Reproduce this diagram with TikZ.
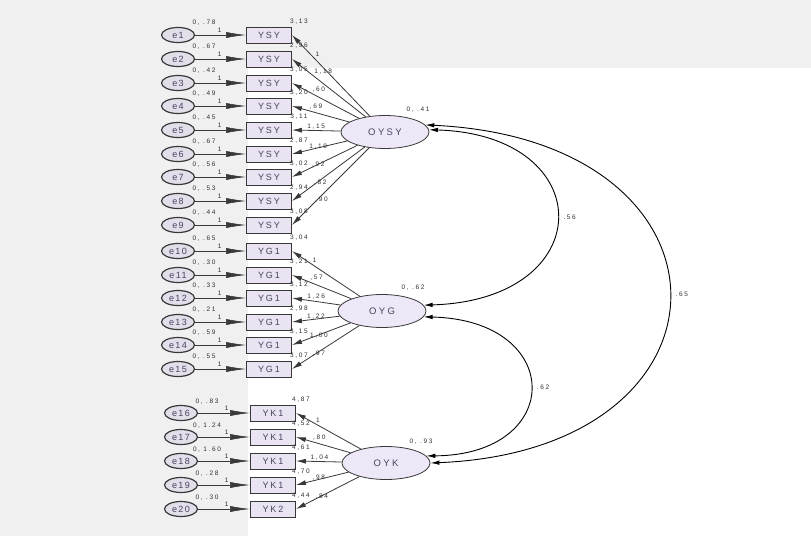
\documentclass[tikz,border=0pt]{standalone}
\usepackage{fontspec}
\setmainfont{Liberation Sans}
\usetikzlibrary{arrows.meta,shapes.geometric}
\definecolor{bggray}{HTML}{F0F0F0}
\definecolor{boxfill}{HTML}{E9E3F2}
\definecolor{errfill}{HTML}{E2DEEA}
\definecolor{latfill}{HTML}{EDE7F8}
\definecolor{edgecol}{HTML}{383838}
\definecolor{boxtext}{HTML}{4A4460}
\definecolor{lblcol}{HTML}{303030}
\tikzset{
  obsbox/.style={draw=edgecol, line width=0.9pt, fill=boxfill, minimum width=45pt, minimum height=16pt, inner sep=0pt, font=\fontsize{9}{10}\selectfont\addfontfeature{LetterSpace=22}, text=boxtext},
  errell/.style={ellipse, draw=edgecol, line width=1.2pt, fill=errfill, minimum width=33pt, minimum height=15pt, inner sep=0pt, font=\fontsize{9}{10}\selectfont\addfontfeature{LetterSpace=15}, text=boxtext},
  latent/.style={ellipse, draw=edgecol, line width=0.8pt, fill=latfill, minimum width=88pt, minimum height=33pt, inner sep=0pt, font=\fontsize{9.5}{10}\selectfont\addfontfeature{LetterSpace=25}, text=boxtext},
  lbl/.style={font=\fontsize{6.5}{7}\selectfont\addfontfeature{LetterSpace=25}, inner sep=0.5pt, text=lblcol},
  loadlbl/.style={lbl, anchor=south west, xshift=1pt},
  loadpath/.style={draw=edgecol, line width=0.8pt, -{Latex[length=10pt,width=5pt]}},
  errpath/.style={draw=edgecol, line width=0.6pt, -{Latex[length=20pt,width=6pt]}},
  covpath/.style={draw=black, line width=0.9pt, {Latex[length=9pt,width=4.5pt]}-{Latex[length=9pt,width=4.5pt]}}
}
\begin{document}
\begin{tikzpicture}[x=1pt,y=-1pt]
\useasboundingbox (0,0) rectangle (811,536);
\fill[bggray] (0,0) rectangle (811,536);
\fill[white] (248,68) rectangle (811,536);

% latent factors
\node[latent] (oysy) at (385,132) {OYSY};
\node[latent] (oyg) at (382,311) {OYG};
\node[latent] (oyk) at (386,463) {OYK};
\node[lbl] (voysy) at (418,110) {0, .41};
\node[lbl] (voyg) at (413,288) {0, .62};
\node[lbl] (voyk) at (421,442) {0, .93};

% YSY indicators
\foreach \i/\y/\v/\c/\l in {1/35/{0, .78}/{3,13}/{1}, 2/59/{0, .67}/{2,96}/{1,18}, 3/83/{0, .42}/{3,05}/{,60}, 4/106/{0, .49}/{3,20}/{,69}, 5/130/{0, .45}/{3,11}/{1,15}, 6/154/{0, .67}/{2,87}/{1,19}, 7/177/{0, .56}/{3,02}/{,92}, 8/201/{0, .53}/{2,94}/{,82}, 9/225/{0, .44}/{3,08}/{,90}}{
  \node[errell] (e\i) at (178,\y) {e\i};
  \node[obsbox] (b\i) at (269,\y) {YSY};
  \node[lbl] (v\i) at (204,\y-12) {\v};
  \node[lbl] (c\i) at ([shift={(7,-5)}]b\i.north east) {\c};
  \draw[errpath] (e\i) -- node[lbl, pos=0.48, above=2pt] {1} (b\i);
  \draw[loadpath] (oysy) -- node[loadlbl, pos=0.72] {\l} (b\i.east);
}
% YG indicators
\foreach \i/\y/\v/\c/\l in {10/251/{0, .65}/{3,04}/{1}, 11/275/{0, .30}/{3,21}/{,57}, 12/298/{0, .33}/{3,12}/{1,26}, 13/322/{0, .21}/{2,98}/{1,22}, 14/345/{0, .59}/{3,15}/{1,00}, 15/369/{0, .55}/{3,07}/{,97}}{
  \node[errell] (e\i) at (178,\y) {e\i};
  \node[obsbox] (b\i) at (269,\y) {YG1};
  \node[lbl] (v\i) at (204,\y-12) {\v};
  \node[lbl] (c\i) at ([shift={(7,-5)}]b\i.north east) {\c};
  \draw[errpath] (e\i) -- node[lbl, pos=0.48, above=2pt] {1} (b\i);
  \draw[loadpath] (oyg) -- node[loadlbl, pos=0.72] {\l} (b\i.east);
}
% YK indicators
\foreach \i/\y/\v/\c/\l/\t in {16/413/{0, .83}/{4,87}/{1}/YK1, 17/437/{0, 1.24}/{4,52}/{,80}/YK1, 18/461/{0, 1.60}/{4,61}/{1,04}/YK1, 19/485/{0, .28}/{4,70}/{,98}/YK1, 20/509/{0, .30}/{4,44}/{,84}/YK2}{
  \node[errell] (e\i) at (181,\y) {e\i};
  \node[obsbox] (b\i) at (273,\y) {\t};
  \node[lbl] (v\i) at (207,\y-11) {\v};
  \node[lbl] (c\i) at ([shift={(5,-5)}]b\i.north east) {\c};
  \draw[errpath] (e\i) -- node[lbl, pos=0.55, above=2pt] {1} (b\i);
  \draw[loadpath] (oyk) -- node[loadlbl, pos=0.72] {\l} (b\i.east);
}

% covariances
\draw[covpath] (oysy.3) .. controls (600,135) and (600,300) .. node[lbl, pos=0.5, right=6pt] {.56} (oyg.8);
\draw[covpath] (oysy.10) .. controls (749,140) and (749,450) .. node[lbl, pos=0.5, right=6pt] {.65} (oyk.0);
\draw[covpath] (oyg.-8) .. controls (565,320) and (565,455) .. node[lbl, pos=0.5, right=6pt] {.62} (oyk.10);
\end{tikzpicture}
\end{document}
